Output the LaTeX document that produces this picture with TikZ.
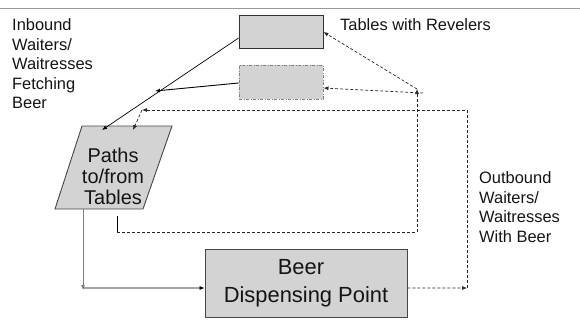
\documentclass[tikz,border=0pt]{standalone}
\usepackage{fontspec}
\setmainfont{Liberation Sans}
\usetikzlibrary{arrows.meta}
\definecolor{boxfill}{RGB}{211,211,211}
\definecolor{edge}{RGB}{70,70,70}
\definecolor{txt}{RGB}{20,20,20}
\tikzset{
  tip/.style={-{Latex[length=5bp,width=4bp]}},
  box/.style={draw=edge, fill=boxfill, line width=0.9bp, inner sep=0},
  dashln/.style={draw=black!85, line width=0.7bp, dash pattern=on 3bp off 2bp},
  solidln/.style={draw=black, line width=0.7bp},
  smalltxt/.style={text=txt, inner sep=0, align=left, font=\fontsize{16.5}{19.6}\selectfont},
}
\begin{document}
\begin{tikzpicture}[x=1bp,y=-1bp]
\useasboundingbox (0,0) rectangle (580,329);
% top rule
\draw[draw=gray!80, line width=1bp] (0,8) -- (580,8);
% boxes
\node (t1) [box, draw=black!80, minimum width=84bp, minimum height=33bp] at (281,31.5) {};
\node (t2) [box, draw=gray, dash pattern=on 3bp off 1.5bp on 1bp off 1.5bp, minimum width=84bp, minimum height=34bp] at (281,82) {};
\node (beer) [box, minimum width=202bp, minimum height=68bp, text=txt, align=center, font=\fontsize{22}{28}\selectfont] at (306,283) {Beer\hspace*{10bp}\\Dispensing Point};
% parallelogram
\coordinate (p1) at (82,126);
\coordinate (p2) at (172,126);
\coordinate (p3) at (143,209);
\coordinate (p4) at (55,209);
\draw[box] (p1) -- (p2) -- (p3) -- (p4) -- cycle;
\node (paths) [text=txt, align=center, inner sep=0, font=\fontsize{20}{21}\selectfont] at (113,176) {Paths\\to/from\\Tables};
% labels
\node (lin) [smalltxt, anchor=north west] at (12,18.5) {Inbound\\Waiters/\\Waitresses\\Fetching\\Beer};
\node (lrev) [smalltxt, anchor=north west] at (340,18) {Tables with Revelers};
\node (lout) [smalltxt, anchor=north west, font=\fontsize{16.5}{20}\selectfont] at (479,171) {Outbound\\Waiters/\\Waitresses\\With Beer};
% coordinates
\coordinate (pa) at (102,130);
\coordinate (pb) at (133,130);
\coordinate (mid) at (155,91);
\coordinate (rs) at (417,89);
\coordinate (rs2) at (423,93);
\coordinate (c1) at (117,216);
\coordinate (c2) at (117,232);
\coordinate (c3) at (417,232);
\coordinate (o1) at (467,288);
\coordinate (o2) at (467,110);
\coordinate (o3) at (142,110);
\coordinate (g1) at (83,209);
\coordinate (g2) at (83,290);
\coordinate (g3) at (83,288);
% inbound solid connectors
\draw[solidln, tip] ([yshift=-6.5bp]t1.west) -- (pa);
\draw[solidln, line width=0.9bp, tip] ([yshift=-1bp]t2.west) -- (mid);
% return from paths to tables
\draw[solidln] (c1) -- (c2);
\draw[dashln, tip] (c2) -- (c3) -- (rs);
\draw[dashln, tip] (rs) -- ([yshift=-0.5bp]t1.east);
\draw[dashln, tip] (rs2) -- ([yshift=-6bp]t2.east);
% outbound
\draw[dashln, tip] ([yshift=-5bp]beer.east) -- (o1);
\draw[dashln, tip] (o1) -- (o2) -- (o3);
\draw[dashln, tip] (o3) -- (pb);
% paths to beer
\draw[draw=gray, line width=0.9bp, tip] (g1) -- (g2);
\draw[solidln, tip] (g3) -- ([yshift=-5bp]beer.west);
\end{tikzpicture}
\end{document}
